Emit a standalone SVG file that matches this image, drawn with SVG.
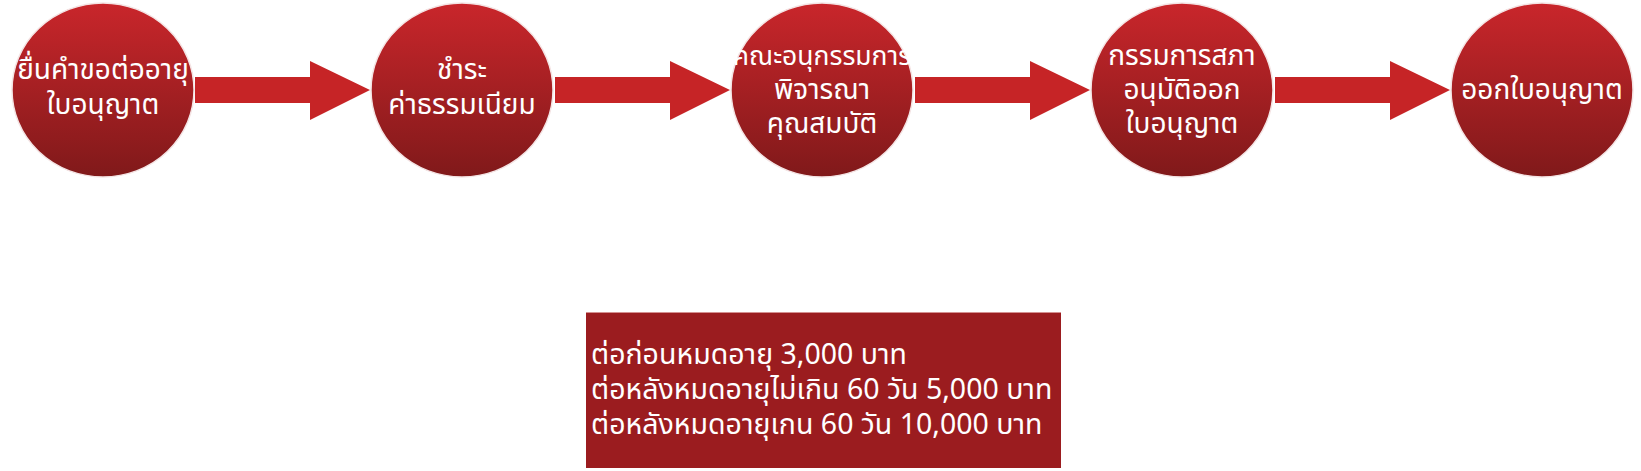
<svg xmlns="http://www.w3.org/2000/svg" width="1641" height="471" viewBox="0 0 1641 471">
<defs>
<linearGradient id="g" x1="0" y1="0" x2="0" y2="1">
<stop offset="0" stop-color="#C9262B"/>
<stop offset="1" stop-color="#80191A"/>
</linearGradient>
<style>
.c{fill:url(#g);stroke:#F4E4E4;stroke-width:1.5}
.t{fill:#FFFFFF;font-family:"Noto Sans Thai","Noto Sans","DejaVu Sans",sans-serif;font-size:28px;text-anchor:middle}
.a{fill:#C62426}
.bt{fill:#FFFFFF;font-family:"Noto Sans Thai","Noto Sans","DejaVu Sans",sans-serif;font-size:28.5px}
</style>
</defs>
<rect width="1641" height="471" fill="#FFFFFF"/>
<g id="connectors">
<polygon class="a" points="195,77 310,77 310,61 370,90 310,120 310,103 195,103"/>
<polygon class="a" points="555,77 670,77 670,61 730,90 670,120 670,103 555,103"/>
<polygon class="a" points="915,77 1030,77 1030,61 1090,90 1030,120 1030,103 915,103"/>
<polygon class="a" points="1275,77 1390,77 1390,61 1450,90 1390,120 1390,103 1275,103"/>
</g>
<g id="n1">
<ellipse class="c" cx="103" cy="90" rx="91" ry="87"/>
<text class="t" x="103" y="79">ยื่นคำขอต่ออายุ</text>
<text class="t" x="103" y="114">ใบอนุญาต</text>
</g>
<g id="n2">
<ellipse class="c" cx="462" cy="90" rx="91" ry="87"/>
<text class="t" x="462" y="79">ชำระ</text>
<text class="t" x="462" y="114">ค่าธรรมเนียม</text>
</g>
<g id="n3">
<ellipse class="c" cx="822" cy="90" rx="91" ry="87"/>
<text class="t" x="822" y="65" style="font-size:26.5px">คณะอนุกรรมการ</text>
<text class="t" x="822" y="99">พิจารณา</text>
<text class="t" x="822" y="133">คุณสมบัติ</text>
</g>
<g id="n4">
<ellipse class="c" cx="1182" cy="90" rx="91" ry="87"/>
<text class="t" x="1182" y="65">กรรมการสภา</text>
<text class="t" x="1182" y="99">อนุมัติออก</text>
<text class="t" x="1182" y="133">ใบอนุญาต</text>
</g>
<g id="n5">
<ellipse class="c" cx="1542" cy="90" rx="91" ry="87"/>
<text class="t" x="1542" y="99">ออกใบอนุญาต</text>
</g>
<g id="note">
<rect x="586" y="312" width="475" height="156" fill="#9B1C1F"/>
<line x1="586" y1="312.5" x2="1061" y2="312.5" stroke="#D49090" stroke-width="1"/>
<text class="bt" x="591" y="364">ต่อก่อนหมดอายุ 3,000 บาท</text>
<text class="bt" x="591" y="399">ต่อหลังหมดอายุไม่เกิน 60 วัน 5,000 บาท</text>
<text class="bt" x="591" y="434">ต่อหลังหมดอายุเกน 60 วัน 10,000 บาท</text>
</g>
</svg>
